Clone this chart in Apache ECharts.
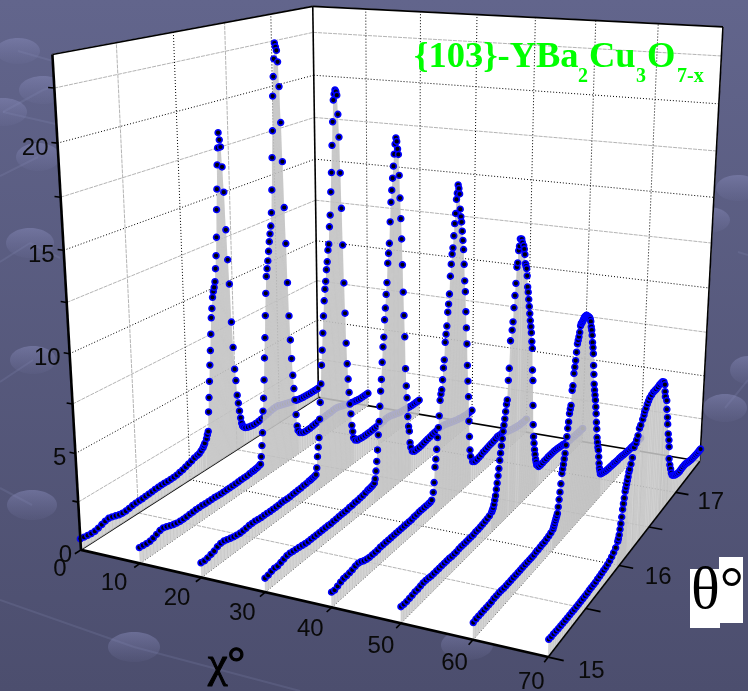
<!DOCTYPE html>
<html><head><meta charset="utf-8">
<style>html,body{margin:0;padding:0;background:#555}#c{width:748px;height:691px}</style>
<script src="https://cdn.jsdelivr.net/npm/echarts@6/dist/echarts.min.js"></script>
</head><body><div id="c"></div>
<script>
const _ = null;
const chiValues = [0,10,20,30,40,50,60,70];
const chiTicks = [10,20,30,40,50,60,70];
const thetaTicks = [15,16,17];
const zTicks = [0,5,10,15,20];
const thetaSamples = [
15,15.03,15.06,15.09,15.12,15.15,15.18,15.21,15.24,15.27,
15.3,15.33,15.36,15.39,15.42,15.45,15.48,15.51,15.54,15.57,
15.6,15.63,15.66,15.69,15.72,15.75,15.78,15.81,15.84,15.87,
15.9,15.93,
15.96,15.97,15.98,15.99,16,16.01,16.02,16.03,16.04,16.05,16.06,16.07,16.08,16.09,
16.1,16.11,16.12,16.13,16.14,16.15,16.16,16.17,16.18,16.19,
16.2,16.21,16.22,16.23,16.24,16.25,16.26,16.27,16.28,16.29,
16.3,16.31,16.32,16.33,16.34,16.35,16.36,16.37,16.38,16.39,
16.4,16.41,16.42,16.43,16.44,16.45,16.46,16.47,16.48,16.49,
16.5,16.51,16.52,16.53,16.54,16.55,16.56,16.57,16.58,16.59,
16.6,16.61,16.62,16.63,16.64,16.65,16.66,16.67,16.68,16.69,
16.7,16.71,16.72,16.73,16.74,16.75,16.76,16.77,16.78,16.79,
16.8,16.81,16.82,16.83,16.84,16.85,16.86,16.87,16.88,16.89,
16.9,16.91,16.92,16.93,16.94,16.95,16.96,16.97,16.98,16.99,
17,17.03,17.06,17.09,17.12,17.15,17.18,17.21,17.24,17.27,17.3,17.33,17.36,17.39,17.42,17.45,17.48,17.5];

const intensityChi0 = [
.58,.55,.52,.5,.5,.55,.62,.68,.72,.68,.62,.56,.53,.53,.56,.6,.62,.63,.63,.65,.66,.68,.7,.71,.72,.72,.71,.71,.72,.74,.78,.82,
.88,_,_,.95,_,_,1,_,_,1.08,_,_,1.12,_,
1.15,_,1.25,_,1.35,1.45,1.55,_,1.75,1.95,
2.1,3.2,4,4.9,5.8,6.6,7.5,8.4,8.9,9.5,
9.8,10,10.3,11,11.7,12.7,14.2,15.3,16.6,17.5,
18.3,17.9,17.5,16.4,15,12.9,11.2,9.8,7.6,6.1,
4.8,4.1,3.2,2.7,2.2,1.75,1.4,1.2,1.1,_,
1,_,_,.92,_,_,.88,_,_,.85,
_,_,.85,_,_,.87,_,_,.9,_,
_,.93,_,_,.97,_,_,1.02,_,_,
1.05,_,_,1.08,_,_,1.1,_,_,1.08,
1.05,1,.95,.9,.85,.8,.78,.72,.68,.65,.63,.62,.61,.6,.6,.6,.6,.6];
const intensityChi10 = [
.82,.8,.78,.78,.82,.9,.98,1,.95,.88,.82,.78,.76,.75,.76,.78,.78,.8,.8,.8,.78,.78,.78,.78,.76,.74,.74,.74,.74,.74,.74,.75,
.76,_,_,.76,_,_,.76,_,_,.78,_,_,.8,_,
.8,_,.82,_,.84,_,.88,.9,1.3,1.9,
2.6,3.8,4.5,5.5,6.7,7.8,9,10.2,11.1,11.5,
11.9,12.4,12.9,13.3,13.7,14.4,15.6,17.3,18.7,20.5,
21.5,22.4,23.2,23,22.8,22.2,20.9,19,16.9,14.4,
12.4,10.2,8.3,6.9,5.8,4.8,4,3.3,2.4,1.7,
1.4,_,1.2,_,_,1.1,_,_,1.05,_,
_,1.05,_,_,1.05,_,_,1.08,_,_,
1.1,_,_,1.12,_,_,1.14,_,_,1.15,
_,_,1.16,_,_,1.17,_,_,1.18,_,
1.18,1.2,1.22,1.2,1.15,1.1,1.05,1,.96,.92,.88,.85,.82,.8,.8,.8,.8,.8];
const intensityChi20 = [
.75,.72,.75,.8,.85,.95,1,1,.95,.9,.85,.82,.8,.8,.82,.85,.85,.85,.82,.8,.8,.8,.78,.78,.78,.78,.8,.8,.78,.78,.8,.8,
.82,_,_,.82,_,_,.85,_,_,.85,_,_,.88,_,
.88,_,.9,_,.92,_,.95,1.3,1.9,2.4,
2.9,3.9,4.8,5.8,6.8,7.6,8.5,9.4,10.2,10.8,
11.2,11.8,12.2,12.8,13.1,14,14.6,15.8,16.8,18.2,
19.4,20.5,20.8,21,20.9,20.7,19.7,18.5,16.6,14.7,
12.7,10.6,8.9,7.2,6,5.1,4.3,3.6,3,2.3,
1.9,1.5,_,1.3,_,_,1.2,_,_,1.18,
_,_,1.15,_,_,1.15,_,_,1.15,_,
_,1.15,_,_,1.16,_,_,1.17,_,_,
1.18,_,_,1.18,_,_,1.18,_,_,1.2,
1.2,1.25,1.25,1.22,1.18,1.12,1.08,1.02,1,.98,.96,.94,.92,.9,.9,.9,.9,.9];
const intensityChi30 = [
.7,.72,.78,.82,.8,.85,.9,.95,.95,.92,.9,.88,.85,.82,.8,.8,.8,.8,.8,.8,.8,.8,.78,.8,.8,.82,.82,.82,.82,.85,.85,.88,
.88,_,_,.9,_,_,.92,_,_,.95,_,_,1,_,
1,_,1.02,_,1.05,_,1.1,1.3,1.7,2.2,
2.8,3.6,4.3,5.1,5.9,6.5,7.4,8.2,8.7,9.6,
10.2,10.9,11.5,12.5,13,13.5,14.6,15.6,16.2,16.8,
17.4,18,18.5,18.8,18.6,18.2,17.9,16.8,15.6,14.5,
13.4,12,10.5,9.2,8,6.2,5.2,4.5,3.4,2.8,
2.5,1.8,1.5,_,1.2,_,_,1.1,_,_,
1.1,_,_,1.1,_,_,1.12,_,_,1.15,
_,_,1.18,_,_,1.2,_,_,1.22,_,
_,1.25,_,_,1.27,_,_,1.28,_,_,
1.3,1.3,1.28,1.25,1.2,1.15,1.1,1.05,1,.95,.92,.88,.85,.82,.8,.8,.8,.8];
const intensityChi40 = [
.75,.72,.78,.85,.9,.9,.92,.95,1,1.02,.98,.9,.85,.82,.82,.82,.82,.85,.85,.85,.85,.85,.85,.85,.85,.85,.85,.85,.85,.85,.88,.88,
.9,_,_,.9,_,_,.9,_,_,.9,_,_,.9,_,
.9,_,.95,_,1.3,1.8,2.6,3,3.5,4.1,
4.6,5.2,6,6.3,6.5,7,7.6,8,8.9,9.3,
9.7,10.4,10.8,11.3,12.2,12.8,13.3,13.6,14.2,14.8,
15.3,16,16.3,16.7,16.5,16.2,15.4,15,14.7,14.2,
13.7,13.2,12.4,11.5,10.9,9.8,8.9,8,6.8,5.9,
5,3.6,2.7,1.9,1.5,_,_,1.1,_,_,
1,_,_,1,_,_,1.02,_,_,1.05,
_,_,1.1,_,_,1.12,_,_,1.15,_,
_,1.18,_,_,1.2,_,_,1.22,_,_,
1.25,1.3,1.28,1.25,1.2,1.15,1.1,1.05,1,.95,.92,.88,.85,.82,.82,.8,.8,.8];
const intensityChi50 = [
.8,.78,.78,.8,.82,.85,.85,.88,.9,.9,.88,.85,.85,.85,.85,.85,.85,.85,.85,.82,.82,.82,.85,.85,.85,.85,.85,.85,.85,.88,.88,.9,
.92,_,_,.95,_,_,.98,_,_,1.02,_,_,1.1,1.18,
1.25,1.4,1.6,1.8,2.1,2.4,2.75,3.1,3.5,3.85,
4.2,4.55,4.9,5.2,5.5,5.85,6.2,6.4,7.4,8,
9.4,_,9.9,10.3,11,11.6,12.2,13,13.2,13.8,
14,14.35,_,14.3,14.1,_,13.9,13.7,13.4,12.9,
12.75,12.6,12.2,11.6,11.3,10.9,10.5,10.1,9.7,9.35,
9,8.5,8.1,6.9,6.3,4.9,3.8,3.1,2.7,2.3,
2,1.7,1.5,1.3,_,1.2,1.1,_,_,1.08,
_,_,1.08,_,_,1.1,_,_,1.1,_,
_,1.12,_,_,1.12,_,_,1.12,_,_,
1.12,1.1,1.08,1.05,1.02,1,.95,.92,.88,.85,.85,.85,.82,.82,.8,.8,.8,.8];
const intensityChi60 = [
.82,.85,.85,.85,.85,.85,.85,.85,.88,.88,.88,.88,.85,.85,.85,.85,.85,.85,.85,.85,.85,.85,.85,.85,.85,.85,.88,.88,.9,.92,.92,.95,
.98,_,_,1.03,_,_,1.1,1.2,1.3,1.4,1.5,1.6,1.7,2,
2.35,2.7,3.1,3.6,3.8,4,4.25,4.5,4.9,5.3,
5.7,6,6.4,6.6,6.75,7.5,7.7,8.3,8.6,8.9,
9.3,9.7,9.85,10,10.2,10.5,10.6,10.6,10.65,10.7,
10.75,10.8,10.8,10.8,10.8,10.75,10.7,10.65,10.6,10.55,
10.45,10.3,10,9.8,9.5,9.1,8.8,8.45,7.8,7.3,
6.75,6.4,6.1,5.8,5.4,5,4.5,4.1,3.6,3.3,
3,2.8,2.4,2,1.7,1.5,1.3,_,1.25,_,
_,1.2,_,_,1.15,_,_,1.12,_,_,
1.1,_,_,1.08,_,_,1.06,_,_,1.05,
1.05,1.02,1,1,.98,.95,.92,.9,.88,.86,.85,.84,.82,.82,.8,.8,.8,.8];
const intensityChi70 = [
.83,.8,.8,.78,.76,.75,.74,.73,.72,.72,.72,.7,.7,.7,.7,.7,.7,.7,.72,.72,.72,.72,.75,.76,.78,.8,.82,.85,.9,.98,1.08,1.2,
1.4,1.5,1.65,1.9,2.15,2.45,2.8,3.05,3.3,3.6,3.75,3.9,4.05,4.2,
4.4,4.5,_,4.7,_,4.95,_,5.4,_,_,
5.5,5.65,_,5.8,_,6.1,_,6.2,_,_,
6.4,_,6.55,6.7,_,6.8,_,6.95,_,7.05,
_,7.15,_,_,7.2,_,_,7.25,_,_,
7.25,_,7.25,_,_,7.27,_,_,7.3,_,
_,7.3,_,7.3,_,_,7.2,_,7,6.6,
6.3,_,_,6,5.5,_,5,4.6,_,4,
_,3.6,3.2,2.5,_,2.1,_,1.8,_,1.5,
_,1.3,_,_,1.2,_,_,1.1,_,_,
1.05,1,.98,1,1,1,.98,.92,.88,.84,.8,.78,.76,.74,.73,.72,.72,.72];
const intensities = [intensityChi0,intensityChi10,intensityChi20,intensityChi30,intensityChi40,intensityChi50,intensityChi60,intensityChi70];
intensities.forEach(a=>{ if(a.length!==thetaSamples.length) throw new Error('len '+a.length+' vs '+thetaSamples.length); });

// Camera calibration: box landmarks -> perspective projection
const cameraRefs = [
[0,15,0,82,549],[70,15,0,548,657],[70,17.5,0,701,461],[0,17.5,0,318,398],
[0,15,24,53,54],[0,17.5,24,313,6],[70,17.5,24,724,27],
[0,15,5,77,452],[0,15,10,69,355],[0,15,15,62,251],[0,15,20,58,143],
[0,17.5,10,316,241],[0,17.5,20,314,75],
[70,17.5,5,704,375],[70,17.5,10,707,288],[70,17.5,15,713,198],[70,17.5,20,719,104],
[10,15,0,139,563],[20,15,0,201,578],[30,15,0,266,593],[40,15,0,331,608],[50,15,0,401,623],[60,15,0,473,640],
[70,15.5,0,586,608],[70,16,0,619,566],[70,16.5,0,649.5,527],[70,17,0,677,492]];
function solveCamera(refs){
  const A=[],b=[];
  refs.forEach(([c,t,z,x,y])=>{
    const X=c/70,Y=(t-15)/2.5,Z=z/24;
    A.push([X,Y,Z,1,0,0,0,0,-x*X,-x*Y,-x*Z]);b.push(x);
    A.push([0,0,0,0,X,Y,Z,1,-y*X,-y*Y,-y*Z]);b.push(y);
  });
  const n=11,M=[];
  for(let i=0;i<n;i++){M.push(new Array(n+1).fill(0));
    for(let j=0;j<n;j++)for(let r=0;r<A.length;r++)M[i][j]+=A[r][i]*A[r][j];
    for(let r=0;r<A.length;r++)M[i][n]+=A[r][i]*b[r];}
  for(let i=0;i<n;i++){let p=i;for(let k=i+1;k<n;k++)if(Math.abs(M[k][i])>Math.abs(M[p][i]))p=k;
    [M[i],M[p]]=[M[p],M[i]];
    for(let k=0;k<n;k++)if(k!==i){const f=M[k][i]/M[i][i];for(let j=i;j<=n;j++)M[k][j]-=f*M[i][j];}}
  return M.map((r,i)=>r[n]/r[i]);
}
const cam=solveCamera(cameraRefs);
function P(c,t,z){const X=c/70,Y=(t-15)/2.5,Z=z/24,w=cam[8]*X+cam[9]*Y+cam[10]*Z+1;
  return [(cam[0]*X+cam[1]*Y+cam[2]*Z+cam[3])/w,(cam[4]*X+cam[5]*Y+cam[6]*Z+cam[7])/w];}

const INK='#000', GREY='#b4b4b4';
const segs=[];
function seg(a,b,color,width,dash){segs.push({a,b,color,width,dash});}
const dot=[1,2], greyDash=[4,1];
[2.5,5,7.5,10,12.5,15,17.5,20,22.5].forEach(z=>{
  const maj=z%5===0;
  seg([0,15,z],[0,17.5,z],maj?INK:GREY,1,maj?dot:greyDash);
  seg([0,17.5,z],[70,17.5,z],maj?INK:GREY,1,maj?dot:greyDash);
});
[15.5,16,16.5,17].forEach(t=>{
  const maj=t%1===0;
  seg([0,t,0],[0,t,24],maj?INK:GREY,1,maj?dot:greyDash);
  seg([0,t,0],[70,t,0],maj?INK:GREY,1,maj?dot:greyDash);
});
[10,20,30,40,50,60].forEach(c=>{
  seg([c,17.5,0],[c,17.5,24],INK,1,dot);
  seg([c,15,0],[c,17.5,0],INK,1,dot);
});
seg([0,15,24],[0,17.5,24],INK,1.6);seg([0,17.5,24],[70,17.5,24],INK,1.6);
seg([0,17.5,0],[0,17.5,24],INK,1.6);seg([70,17.5,0],[70,17.5,24],INK,1.6);
seg([0,15,0],[0,17.5,0],INK,1.4);seg([0,17.5,0],[70,17.5,0],INK,1.6);
const frontSegs=[];
function fseg(a,b,width){frontSegs.push({a,b,color:INK,width});}
fseg([0,15,0],[0,15,24],2.6);fseg([0,15,0],[70,15,0],2.6);fseg([70,15,0],[70,17.5,0],1.6);
chiTicks.forEach(c=>fseg([c,15,0],[c,14.95,0],1.6));
fseg([0,15,0],[0,14.95,0],1.6);
[15,15.5,16,16.5,17].forEach(t=>fseg([70,t,0],[72,t,0],1.6));
[2.5,5,7.5,10,12.5,15,17.5,20,22.5].forEach(z=>fseg([0,15,z],[-1,15,z],1.6));

function segSeries(list,z){return {type:'custom',z,coordinateSystem:'cartesian2d',data:list.map((s,i)=>[i]),silent:true,clip:false,
  renderItem(p,api){const s=list[api.value(0)],a=api.coord(P(...s.a)),b=api.coord(P(...s.b));
    return {type:'line',shape:{x1:a[0],y1:a[1],x2:b[0],y2:b[1]},style:{stroke:s.color,lineWidth:s.width,lineDash:s.dash||null,fill:null}};}};}
const walls=[[[0,15,0],[0,17.5,0],[0,17.5,24],[0,15,24]],[[0,17.5,0],[70,17.5,0],[70,17.5,24],[0,17.5,24]],[[0,15,0],[70,15,0],[70,17.5,0],[0,17.5,0]]];
const series=[];
series.push({type:'custom',z:1,coordinateSystem:'cartesian2d',silent:true,clip:false,data:walls.map((w,i)=>[i]),
  renderItem(p,api){return {type:'polygon',shape:{points:walls[api.value(0)].map(v=>api.coord(P(...v)))},style:{fill:'#fff',stroke:'#fff'}};}});
series.push(segSeries(segs,2));
chiValues.forEach((chi,k)=>{
  const vals=intensities[k];
  const pts=[];thetaSamples.forEach((t,i)=>{if(vals[i]!==null)pts.push([t,vals[i]]);});
  series.push({type:'custom',z:3+2*k,coordinateSystem:'cartesian2d',silent:true,clip:false,data:[[0]],
    renderItem(p,api){
      const top=pts.map(d=>api.coord(P(chi,d[0],d[1])));
      const bot=pts.map(d=>api.coord(P(chi,d[0],0))).reverse();
      const children=[{type:'polygon',shape:{points:top.concat(bot)},style:{fill:'rgba(204,204,204,0.84)'}}];
      top.forEach((q,i)=>{const r=bot[bot.length-1-i];
        children.push({type:'line',shape:{x1:q[0],y1:q[1],x2:r[0],y2:r[1]},style:{stroke:'rgba(175,175,175,0.3)',lineWidth:1}});});
      return {type:'group',children};
    }});
  series.push({type:'scatter',z:4+2*k,coordinateSystem:'cartesian2d',silent:true,clip:false,symbol:'circle',symbolSize:5.8,
    itemStyle:{color:'#000008',borderColor:'#0000ff',borderWidth:1.6,opacity:1},
    data:pts.map(d=>P(chi,d[0],d[1]))});
});
series.push(segSeries(frontSegs,30));
function labelSeries(items,align){return {type:'scatter',z:31,coordinateSystem:'cartesian2d',silent:true,clip:false,symbolSize:0,
  itemStyle:{opacity:1},
  data:items.map(it=>({value:it.pos,label:{formatter:it.text}})),
  label:{show:true,position:'inside',color:'#0a0a0a',fontFamily:'Liberation Sans',fontSize:24,align:align,verticalAlign:'middle'}};}
function off(p,dx,dy){return [p[0]+dx,p[1]+dy];}
series.push(labelSeries(chiTicks.map(c=>({pos:off(P(c,15,0),-27.5+.15*c,19.2+.08*c),text:String(c)})),'center'));
series.push(labelSeries(thetaTicks.map(t=>({pos:off(P(70,t,0),43-4*(t-15),14-2*(t-15)),text:String(t)})),'center'));
series.push(labelSeries(zTicks.map(z=>({pos:off(P(0,15,z),-9,5),text:String(z)})),'right'));
series.push(labelSeries([{pos:off(P(0,15,0),-21,19),text:'0'}],'center'));

const bgEllipses=[[18,51,22,13],[43,90,24,14],[3,112,24,14],[38,157,22,14],[30,243,24,15],[33,360,23,14],[32,505,25,15],[134,647,26,15],[467,645,26,15],[738,188,22,13],[708,220,22,13],[725,408,22,14],[748,370,18,14]];
const bgLines=[[18,51,60,63],[43,90,60,84],[43,90,3,112],[3,112,60,125],[38,157,0,176],[30,243,60,258],[0,262,30,243],[33,360,0,382],[32,505,0,488],[0,600,134,647],[134,647,300,691],[725,408,748,380],[738,252,748,255]];
const graphicEls=[];
bgLines.forEach(l=>graphicEls.push({type:'line',z:0,silent:true,shape:{x1:l[0],y1:l[1],x2:l[2],y2:l[3]},style:{stroke:'rgba(150,155,200,0.16)',lineWidth:2}}));
bgEllipses.forEach(e=>graphicEls.push({type:'ellipse',z:0,silent:true,shape:{cx:e[0],cy:e[1],rx:e[2],ry:e[3]},style:{fill:{type:'linear',x:0,y:0,x2:0,y2:1,colorStops:[{offset:0,color:'rgba(135,138,185,0.5)'},{offset:1,color:'rgba(125,128,175,0.08)'}]}}}));
function titleText(t,x,y,size){graphicEls.push({type:'text',z:100,silent:true,x,y,style:{text:t,fill:'#00ff00',font:'bold '+size+'px "Liberation Serif"',textAlign:'left',textVerticalAlign:'bottom'}});}
titleText('{103}-YBa',414,76,36.5);titleText('2',578,87,20);titleText('Cu',589,76,36.5);titleText('3',636,87,20);titleText('O',647,76,36.5);titleText('7-x',677,87,20);
graphicEls.push({type:'rect',z:100,silent:true,shape:{x:690,y:569,width:30,height:59},style:{fill:'#fff'}});
graphicEls.push({type:'rect',z:100,silent:true,shape:{x:719,y:557,width:24,height:66},style:{fill:'#fff'}});
graphicEls.push({type:'text',z:101,silent:true,x:691,y:622,style:{text:'θ°',fill:'#000',font:'60px "Liberation Serif"',textAlign:'left',textVerticalAlign:'bottom'}});
graphicEls.push({type:'text',z:101,silent:true,x:208,y:687,style:{text:'χ°',fill:'#000',stroke:'#000',lineWidth:1.1,font:'44px "Liberation Serif"',textAlign:'left',textVerticalAlign:'bottom'}});

const chart=echarts.init(document.getElementById('c'),null,{renderer:'canvas'});
chart.setOption({
  animation:false,
  backgroundColor:{type:'linear',x:0,y:0,x2:0,y2:1,colorStops:[{offset:0,color:'#62658c'},{offset:1,color:'#4c4e6e'}]},
  grid:{left:0,right:0,top:0,bottom:0},
  xAxis:{type:'value',min:0,max:748,show:false},
  yAxis:{type:'value',min:0,max:691,inverse:true,show:false},
  graphic:{elements:graphicEls},
  series
});
</script></body></html>
